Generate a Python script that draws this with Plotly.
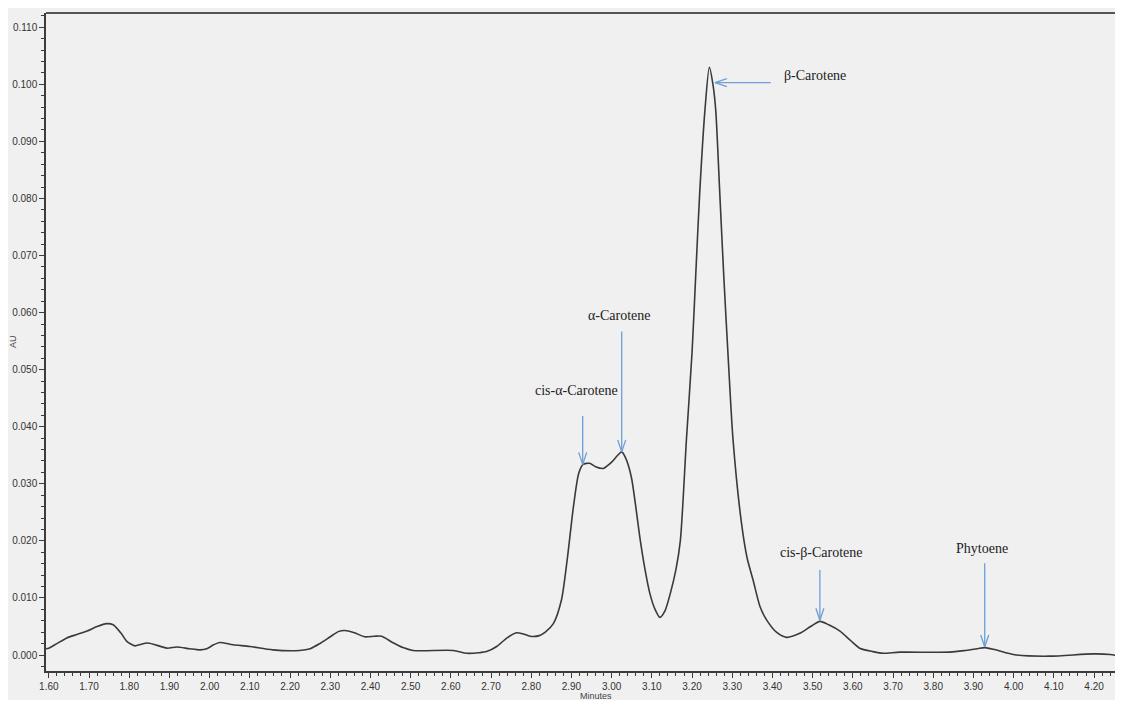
import plotly.graph_objects as go

# ---- data ----
minutes = [1.593, 1.600, 1.620, 1.645, 1.670, 1.695, 1.720, 1.744, 1.760, 1.780,
           1.794, 1.814, 1.830, 1.844, 1.860, 1.894, 1.918, 1.950, 1.976, 1.993,
           2.010, 2.025, 2.058, 2.100, 2.157, 2.224, 2.250, 2.274, 2.300, 2.320,
           2.336, 2.360, 2.386, 2.410, 2.428, 2.455, 2.481, 2.506, 2.606, 2.639,
           2.670, 2.689, 2.714, 2.740, 2.763, 2.780, 2.797, 2.820, 2.835, 2.855,
           2.875, 2.890, 2.905, 2.918, 2.929, 2.945, 2.960, 2.979, 3.000, 3.015,
           3.025, 3.035, 3.049, 3.060, 3.070, 3.083, 3.095, 3.108, 3.120, 3.133,
           3.146, 3.160, 3.171, 3.186, 3.200, 3.209, 3.219, 3.232, 3.243, 3.252,
           3.259, 3.269, 3.279, 3.290, 3.302, 3.323, 3.337, 3.352, 3.369, 3.385,
           3.410, 3.435, 3.468, 3.495, 3.518, 3.540, 3.568, 3.595, 3.617, 3.650,
           3.675, 3.717, 3.841, 3.880, 3.910, 3.928, 3.950, 3.980, 4.007, 4.090,
           4.197, 4.240, 4.272]
absorbance = [0.0011, 0.0012, 0.0020, 0.0030, 0.0036, 0.0042, 0.0050, 0.0055, 0.0053, 0.0038,
              0.0024, 0.0016, 0.0019, 0.0021, 0.0019, 0.0012, 0.0014, 0.0011, 0.0009, 0.0011,
              0.0018, 0.0022, 0.0018, 0.0015, 0.0009, 0.0008, 0.0011, 0.0020, 0.0032, 0.0041,
              0.0043, 0.0039, 0.0032, 0.0033, 0.0033, 0.0022, 0.0013, 0.0008, 0.0008, 0.0003,
              0.0004, 0.0006, 0.0015, 0.0030, 0.0039, 0.0037, 0.0033, 0.0034, 0.0040, 0.0055,
              0.0096, 0.0170, 0.0260, 0.0318, 0.0334, 0.0336, 0.0330, 0.0327, 0.0338, 0.0350,
              0.0356, 0.0345, 0.0312, 0.0260, 0.0207, 0.0150, 0.0108, 0.0080, 0.0066, 0.0078,
              0.0108, 0.0150, 0.0201, 0.0377, 0.0530, 0.0663, 0.0809, 0.0954, 0.1030, 0.1000,
              0.0954, 0.0809, 0.0663, 0.0520, 0.0377, 0.0231, 0.0170, 0.0131, 0.0085, 0.0062,
              0.0040, 0.0031, 0.0038, 0.0050, 0.0059, 0.0053, 0.0042, 0.0025, 0.0012, 0.0006,
              0.0003, 0.0005, 0.0005, 0.0008, 0.0011, 0.0013, 0.0010, 0.0004, 0.0000, -0.0002,
              0.0002, 0.0001, -0.0003]

x_ticks = [round(1.6 + 0.1 * i, 2) for i in range(27)]
x_tick_labels = [f"{v:.2f}" for v in x_ticks]
y_ticks = [round(0.01 * i, 3) for i in range(12)]
y_tick_labels = [f"{v:.3f}" for v in y_ticks]

# peak labels: name, arrow tip (min, AU), arrow tail, label anchor
peak_names = ["cis-α-Carotene", "α-Carotene", "β-Carotene", "cis-β-Carotene", "Phytoene"]
tip_x = [2.928, 3.025, 3.257, 3.518, 3.928]
tip_y = [0.0334, 0.0356, 0.1003, 0.0061, 0.0014]
tail_x = [2.928, 3.025, 3.396, 3.518, 3.928]
tail_y = [0.0419, 0.0567, 0.1003, 0.0149, 0.0161]
label_x = [2.913, 3.020, 3.423, 3.523, 3.921]
label_y = [0.0464, 0.0595, 0.1016, 0.0179, 0.0186]
label_anchor = ["center", "center", "left", "center", "center"]

BG = "#f0f0f0"
ARROW = "#6f9fd6"
AXIS = "#3c3c3c"

fig = go.Figure()
fig.add_trace(go.Scatter(x=minutes, y=absorbance, mode="lines",
                         line=dict(color="#3a3a3a", width=1.6, shape="spline",
                                   smoothing=0.7),
                         hoverinfo="skip", showlegend=False))

shapes = []
annotations = []
for name, tx, ty, ax_, ay_, lx, ly, anc in zip(peak_names, tip_x, tip_y, tail_x, tail_y,
                                                label_x, label_y, label_anchor):
    shapes.append(dict(type="line", xref="x", yref="y", x0=ax_, y0=ay_, x1=tx, y1=ty,
                       line=dict(color=ARROW, width=1.3)))
    if ax_ == tx:  # vertical arrow pointing down -> open V head
        heads = [(-4, 12), (4, 12)]
    else:          # horizontal arrow pointing left
        heads = [(12, 4), (12, -4)]
    for hx, hy in heads:
        shapes.append(dict(type="line", xref="x", yref="y", xsizemode="pixel",
                           ysizemode="pixel", xanchor=tx, yanchor=ty,
                           x0=0, y0=0, x1=hx, y1=hy,
                           line=dict(color=ARROW, width=1.3)))
    annotations.append(dict(x=lx, y=ly, xref="x", yref="y", text=name, showarrow=False,
                            xanchor=anc, yanchor="middle",
                            font=dict(family="Liberation Serif", size=14, color="#222")))

# top border
shapes.append(dict(type="line", xref="paper", yref="paper", x0=0, x1=1, y0=1, y1=1,
                   line=dict(color="#555", width=2)))

annotations.append(dict(x=2.96, y=0, xref="x", yref="paper", text="Minutes",
                        showarrow=False, yshift=-25, yanchor="middle",
                        font=dict(family="Liberation Sans", size=9, color="#444")))
annotations.append(dict(x=-0.0306, y=0.5, xref="paper", yref="paper", text="AU",
                        showarrow=False, textangle=-90, xanchor="center",
                        font=dict(family="Liberation Sans", size=9, color="#444")))

fig.update_layout(
    width=1115, height=692,
    margin=dict(l=38, r=0, t=5, b=29, autoexpand=False),
    paper_bgcolor=BG, plot_bgcolor=BG,
    shapes=shapes, annotations=annotations,
    xaxis=dict(range=[1.593, 4.272], tickvals=x_ticks, ticktext=x_tick_labels,
               showgrid=False, zeroline=False, showline=True, linecolor=AXIS,
               linewidth=1.5, ticks="outside", ticklen=5, tickcolor=AXIS,
               automargin=False,
               tickfont=dict(family="Liberation Sans", size=10, color="#333"),
               minor=dict(dtick=0.02, tick0=1.6, ticks="outside", ticklen=3,
                          tickcolor=AXIS, showgrid=False)),
    yaxis=dict(range=[-0.0028, 0.1125], tickvals=y_ticks, ticktext=y_tick_labels,
               showgrid=False, zeroline=False, showline=True, linecolor=AXIS,
               linewidth=1.5, ticks="outside", ticklen=5, tickcolor=AXIS,
               automargin=False,
               tickfont=dict(family="Liberation Sans", size=10, color="#333"),
               minor=dict(dtick=0.002, tick0=0, ticks="outside", ticklen=3,
                          tickcolor=AXIS, showgrid=False)),
)

fig.write_html("out.html")
